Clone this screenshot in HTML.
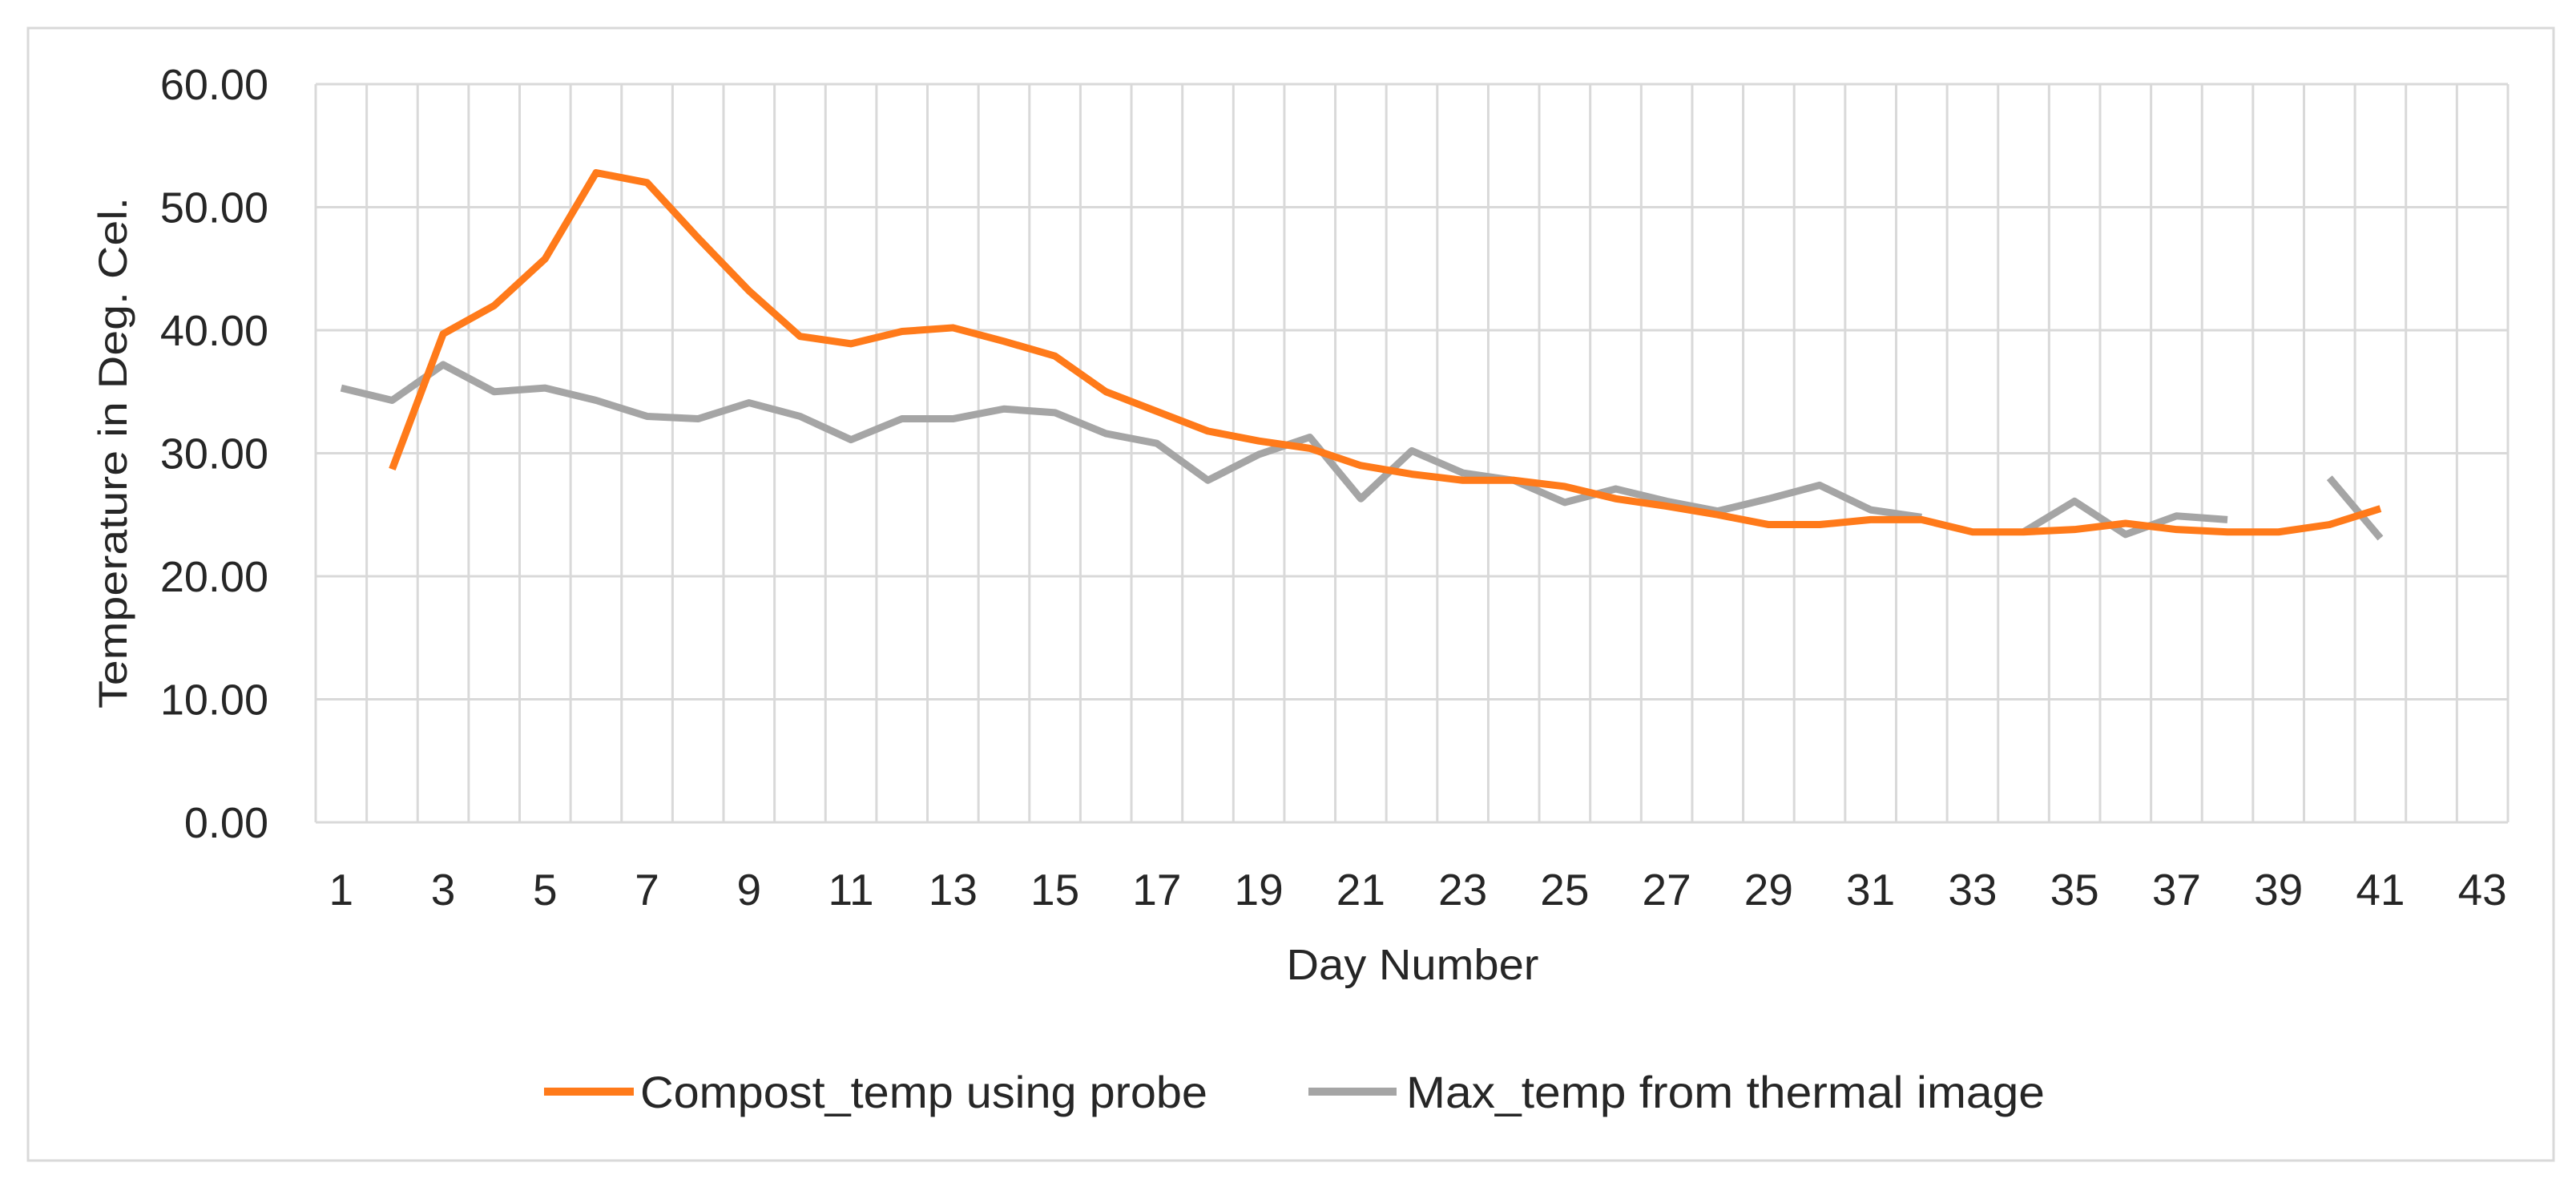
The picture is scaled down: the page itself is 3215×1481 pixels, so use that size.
<!DOCTYPE html>
<html><head><meta charset="utf-8"><style>
html,body{margin:0;padding:0;background:#fff}
svg{display:block}
text{font-family:"Liberation Sans",sans-serif;fill:#262626}
</style></head><body>
<svg id="chart" width="3215" height="1481" viewBox="0 0 3215 1481" xmlns="http://www.w3.org/2000/svg">
<rect x="35" y="35" width="3152" height="1413" fill="#fff" stroke="#d9d9d9" stroke-width="3"/>
<g id="grid"></g>
<g id="series"></g>
<g id="labels"></g>
<text transform="translate(158,565) rotate(-90)" text-anchor="middle" font-size="50" textLength="638" lengthAdjust="spacingAndGlyphs">Temperature in Deg. Cel.</text>
<text x="1763" y="1222" text-anchor="middle" font-size="54" textLength="315" lengthAdjust="spacingAndGlyphs">Day Number</text>
<g>
<g>
<line x1="679" y1="1362" x2="791" y2="1362" stroke="#ff7a1a" stroke-width="10"/>
<text x="799" y="1382" font-size="56" textLength="708" lengthAdjust="spacingAndGlyphs">Compost_temp using probe</text>
</g>
<g>
<line x1="1633" y1="1362" x2="1743" y2="1362" stroke="#a5a5a5" stroke-width="10"/>
<text x="1755" y="1382" font-size="56" textLength="797" lengthAdjust="spacingAndGlyphs">Max_temp from thermal image</text>
</g>
</g>
</svg>
<script>
const days = Array.from({length:43},(_,i)=>i+1);
const yTicks = [0,10,20,30,40,50,60];
const yTickLabels = ["0.00","10.00","20.00","30.00","40.00","50.00","60.00"];
const compostTemp = [null,28.7,39.7,42,45.8,52.8,52,47.5,43.2,39.5,38.9,39.9,40.2,39.1,37.9,35,33.4,31.8,31,30.4,29,28.3,27.8,27.8,27.3,26.3,25.7,25,24.2,24.2,24.6,24.6,23.6,23.6,23.8,24.3,23.8,23.6,23.6,24.2,25.5,null,null];
const maxTemp = [35.3,34.3,37.2,35,35.3,34.3,33,32.8,34.1,33,31.1,32.8,32.8,33.6,33.3,31.6,30.8,27.8,29.9,31.3,26.3,30.2,28.4,27.8,26,27.1,26.1,25.3,26.3,27.4,25.4,24.8,null,23.6,26.1,23.4,24.9,24.6,null,28,23.1,null,null];

const NS="http://www.w3.org/2000/svg";
const L=394,R=3130,T=105,B=1026;
const bw=(R-L)/days.length;
const xPos=i=>L+(i+0.5)*bw;
const yPos=v=>B-(v-0)/(60-0)*(B-T);
function mk(tag,attrs,parent){const e=document.createElementNS(NS,tag);for(const k in attrs)e.setAttribute(k,attrs[k]);parent.appendChild(e);return e;}
const grid=document.getElementById('grid'),series=document.getElementById('series'),labels=document.getElementById('labels');
for(let i=0;i<=days.length;i++){
  const l=mk('line',{x1:L+i*bw,x2:L+i*bw,y1:T,y2:B,stroke:'#d9d9d9','stroke-width':3},grid);
  
  
}
yTicks.forEach((v,i)=>{
  const l=mk('line',{x1:L,x2:R,y1:yPos(v),y2:yPos(v),stroke:'#d9d9d9','stroke-width':3},grid);
  
  
  const t=mk('text',{x:335,y:yPos(v)+19,'text-anchor':'end','font-size':54},labels);
  t.textContent=yTickLabels[i];
  
  
});
days.forEach((d,i)=>{
  if(d%2===0)return;
  const t=mk('text',{x:xPos(i),y:1129,'text-anchor':'middle','font-size':55},labels);
  t.textContent=String(d);
  
  
});
function drawSeries(vals,color,name){
  let segs=[],cur=[];
  vals.forEach((v,i)=>{if(v==null){if(cur.length)segs.push(cur);cur=[];}else cur.push([xPos(i),yPos(v)]);});
  if(cur.length)segs.push(cur);
  segs.forEach(s=>{
    const p=mk('polyline',{points:s.map(q=>q.join(',')).join(' '),fill:'none',stroke:color,'stroke-width':9,'stroke-linejoin':'round'},series);
    
    
  });
}
drawSeries(maxTemp,'#a5a5a5','max-temp-line');
drawSeries(compostTemp,'#ff7a1a','compost-temp-line');
</script>
</body></html>
